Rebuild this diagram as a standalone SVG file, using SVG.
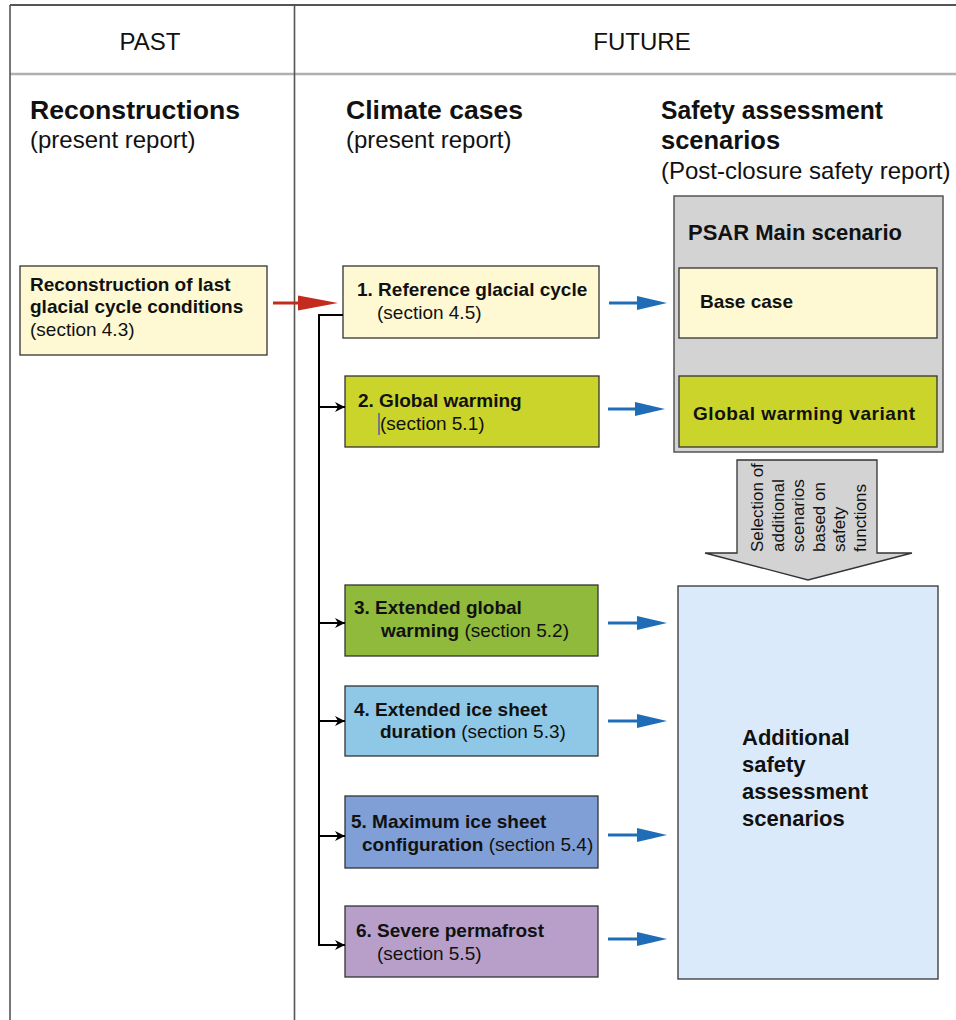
<svg xmlns="http://www.w3.org/2000/svg" width="956" height="1020" viewBox="0 0 956 1020">
<style>
  text { font-family: "Liberation Sans", Arial, sans-serif; fill: #111; }
  .hdr { font-size: 24px; }
  .h2 { font-size: 25.5px; font-weight: bold; }
  .sub { font-size: 24px; }
  .b { font-size: 19px; font-weight: bold; }
  .r { font-weight: normal; }
  .box { stroke: #333; stroke-width: 1.3; }
  .yel { fill: #fef9d3; }
  .gw { fill: #cbd42a; }
  .egw { fill: #8fba3b; }
  .ice { fill: #8fc8e7; }
  .max { fill: #7f9fd6; }
  .perm { fill: #b89fca; }
  .frame { stroke: #555; stroke-width: 1.6; fill: none; }
  .blk { stroke: #000; stroke-width: 2; fill: none; }
  .blue { stroke: #1f6db6; stroke-width: 3; fill: none; }
  .rot { font-size: 17px; }
</style>
<defs>
  <marker id="bh" viewBox="0 0 10 10" refX="10" refY="5" markerWidth="10" markerHeight="10" markerUnits="userSpaceOnUse" orient="auto">
    <path d="M0,0 L10,5 L0,10 L3,5 Z" fill="#000"/>
  </marker>
  <polygon id="bluehead" points="0,-7 30,0 0,7" fill="#1f6db6"/>
</defs>

<g id="frame">
  <line x1="10" y1="5" x2="956" y2="5" stroke="#555" stroke-width="2"/>
  <line x1="10" y1="74" x2="956" y2="74" stroke="#b0b0b0" stroke-width="2.5"/>
  <line x1="10" y1="5" x2="10" y2="1020" class="frame"/>
  <line x1="294.5" y1="5" x2="294.5" y2="1020" class="frame" stroke="#444"/>
  <text class="hdr" x="150" y="50" text-anchor="middle">PAST</text>
  <text class="hdr" x="642" y="50" text-anchor="middle">FUTURE</text>
</g>

<g id="headings">
  <text class="h2" x="30" y="119" textLength="210" lengthAdjust="spacingAndGlyphs">Reconstructions</text>
  <text class="sub" x="30" y="148">(present report)</text>
  <text class="h2" x="346" y="119" textLength="177" lengthAdjust="spacingAndGlyphs">Climate cases</text>
  <text class="sub" x="346" y="148">(present report)</text>
  <text class="h2" x="661" y="119" textLength="222" lengthAdjust="spacingAndGlyphs">Safety assessment</text>
  <text class="h2" x="661" y="149">scenarios</text>
  <text class="sub" x="661" y="179">(Post-closure safety report)</text>
</g>

<g id="reconstruction">
  <rect class="box yel" x="20" y="266" width="247" height="89"/>
  <text class="b" x="30" y="291">Reconstruction of last</text>
  <text class="b" x="30" y="313">glacial cycle conditions</text>
  <text class="b r" x="30" y="336">(section 4.3)</text>
</g>

<g id="case1">
  <rect class="box yel" x="343" y="266" width="256" height="72"/>
  <text class="b" x="357" y="296">1. Reference glacial cycle</text>
  <text class="b r" x="377" y="319">(section 4.5)</text>
</g>

<g id="case2">
  <rect class="box gw" x="345" y="376" width="254" height="71"/>
  <text class="b" x="358" y="407">2. Global warming</text>
  <text class="b r" x="380" y="430">(section 5.1)</text>
  <line x1="379" y1="413" x2="379" y2="435" stroke="#5a5aa8" stroke-width="1.5"/>
</g>

<g id="case3">
  <rect class="box egw" x="345" y="585" width="253" height="71"/>
  <text class="b" x="354" y="614">3. Extended global</text>
  <text class="b" x="381" y="637">warming <tspan class="r">(section 5.2)</tspan></text>
</g>

<g id="case4">
  <rect class="box ice" x="345" y="686" width="253" height="70"/>
  <text class="b" x="354" y="716">4. Extended ice sheet</text>
  <text class="b" x="380" y="738">duration <tspan class="r">(section 5.3)</tspan></text>
</g>

<g id="case5">
  <rect class="box max" x="345" y="796" width="253" height="72"/>
  <text class="b" x="351" y="828">5. Maximum ice sheet</text>
  <text class="b" x="362" y="851">configuration <tspan class="r">(section 5.4)</tspan></text>
</g>

<g id="case6">
  <rect class="box perm" x="345" y="906" width="253" height="71"/>
  <text class="b" x="356" y="937">6. Severe permafrost</text>
  <text class="b r" x="377" y="960">(section 5.5)</text>
</g>

<g id="psar">
  <rect x="674" y="196" width="269" height="256" fill="#d3d3d3" stroke="#555" stroke-width="1.5"/>
  <text x="688" y="240" font-size="22" font-weight="bold">PSAR Main scenario</text>
  <g id="basecase">
    <rect class="box yel" x="679" y="268" width="258" height="70"/>
    <text class="b" x="700" y="308">Base case</text>
  </g>
  <g id="gwvariant">
    <rect class="box gw" x="679" y="376" width="258" height="71"/>
    <text class="b" x="693" y="420" textLength="222" lengthAdjust="spacing">Global warming variant</text>
  </g>
</g>

<g id="selection">
  <polygon points="737,460 877,460 877,553 912,553 808,580 705,553 737,553" fill="#d3d3d3" stroke="#333" stroke-width="1.3"/>
  <text class="rot" transform="translate(763,552) rotate(-90)">Selection of</text>
  <text class="rot" transform="translate(783.5,552) rotate(-90)">additional</text>
  <text class="rot" transform="translate(804,552) rotate(-90)">scenarios</text>
  <text class="rot" transform="translate(824.5,552) rotate(-90)">based on</text>
  <text class="rot" transform="translate(845,552) rotate(-90)">safety</text>
  <text class="rot" transform="translate(866,552) rotate(-90)">functions</text>
</g>

<g id="additional">
  <rect x="678" y="586" width="260" height="393" fill="#dbeafa" stroke="#333" stroke-width="1.3"/>
  <text x="742" y="745" font-size="22" font-weight="bold">Additional</text>
  <text x="742" y="772" font-size="22" font-weight="bold">safety</text>
  <text x="742" y="799" font-size="22" font-weight="bold">assessment</text>
  <text x="742" y="826" font-size="22" font-weight="bold">scenarios</text>
</g>

<g id="connectors">
  <line x1="273" y1="303" x2="300" y2="303" stroke="#c42b1f" stroke-width="3"/>
  <polygon points="298,295.5 338,303 298,310.5" fill="#c42b1f"/>
  <path class="blk" d="M343,315 H319 V945 H345" marker-end="url(#bh)"/>
  <line class="blk" x1="319" y1="407" x2="345" y2="407" marker-end="url(#bh)"/>
  <line class="blk" x1="319" y1="623" x2="345" y2="623" marker-end="url(#bh)"/>
  <line class="blk" x1="319" y1="721" x2="345" y2="721" marker-end="url(#bh)"/>
  <line class="blk" x1="319" y1="836" x2="345" y2="836" marker-end="url(#bh)"/>
  <line class="blue" x1="609" y1="303" x2="640" y2="303"/>
  <use href="#bluehead" x="637" y="303"/>
  <line class="blue" x1="608" y1="409" x2="638" y2="409"/>
  <use href="#bluehead" x="635" y="409"/>
  <line class="blue" x1="608" y1="623" x2="640" y2="623"/>
  <use href="#bluehead" x="637" y="623"/>
  <line class="blue" x1="608" y1="721" x2="640" y2="721"/>
  <use href="#bluehead" x="637" y="721"/>
  <line class="blue" x1="608" y1="835" x2="640" y2="835"/>
  <use href="#bluehead" x="637" y="835"/>
  <line class="blue" x1="608" y1="939" x2="640" y2="939"/>
  <use href="#bluehead" x="637" y="939"/>
</g>
</svg>
